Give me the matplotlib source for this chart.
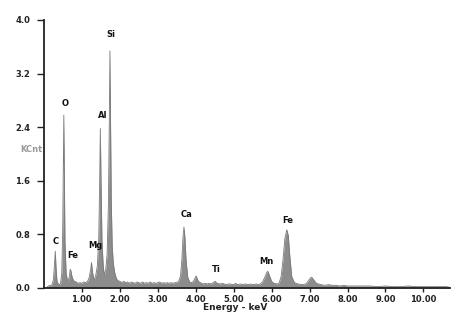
import matplotlib
matplotlib.use("Agg")
import matplotlib.pyplot as plt

# spectrum (keV, KCnt)
energia = [0.05, 0.10, 0.15, 0.18, 0.22, 0.25, 0.275, 0.30, 0.32, 0.345, 0.38, 0.42,
           0.44, 0.47, 0.495, 0.512, 0.525, 0.538, 0.555, 0.585, 0.62,
           0.64, 0.67, 0.695, 0.715, 0.74, 0.78, 0.85, 0.90,
           0.95, 1.00, 1.05, 1.10,
           1.15, 1.19, 1.23, 1.254, 1.28, 1.31, 1.34,
           1.37, 1.41, 1.445, 1.47, 1.487, 1.505, 1.53, 1.56, 1.58,
           1.60, 1.63, 1.665, 1.70, 1.722, 1.74, 1.757, 1.775, 1.80, 1.83, 1.87, 1.91, 1.95,
           2.00, 2.05, 2.10, 2.15, 2.20, 2.25, 2.30, 2.35, 2.40, 2.45, 2.50, 2.55, 2.60,
           2.65, 2.70, 2.75, 2.80, 2.85, 2.90, 2.95, 3.00, 3.05, 3.10, 3.15, 3.20, 3.25,
           3.30, 3.35, 3.40, 3.45, 3.50,
           3.55, 3.60, 3.635, 3.665, 3.69, 3.715, 3.745, 3.79, 3.84, 3.90, 3.95, 4.01, 4.07,
           4.12, 4.20, 4.25, 4.30, 4.35, 4.40, 4.46, 4.51, 4.56, 4.65, 4.70, 4.80, 4.85,
           4.90, 5.00, 5.05, 5.10, 5.20, 5.25, 5.30, 5.40, 5.45, 5.50, 5.60, 5.65, 5.70,
           5.76, 5.82, 5.87, 5.90, 5.94, 6.00, 6.06, 6.15, 6.20,
           6.25, 6.30, 6.35, 6.40, 6.44, 6.48, 6.53, 6.60, 6.70, 6.80, 6.90,
           6.96, 7.02, 7.06, 7.11, 7.18, 7.30, 7.40, 7.50, 7.60, 7.70, 7.80, 7.90, 8.00,
           8.20, 8.40, 8.60, 8.80, 9.00, 9.20, 9.40, 9.60, 9.80, 10.00, 10.20, 10.40,
           10.60, 10.70]
contagens = [0.00, 0.02, 0.04, 0.03, 0.06, 0.12, 0.32, 0.55, 0.30, 0.10, 0.06, 0.05,
             0.07, 0.22, 0.85, 1.75, 2.58, 1.75, 0.70, 0.22, 0.11,
             0.11, 0.17, 0.28, 0.25, 0.17, 0.11, 0.09, 0.07,
             0.08, 0.07, 0.09, 0.08,
             0.10, 0.15, 0.27, 0.38, 0.24, 0.15, 0.14,
             0.20, 0.34, 0.75, 1.60, 2.38, 1.60, 0.70, 0.36, 0.24,
             0.20, 0.28, 0.50, 1.25, 2.42, 3.54, 2.42, 1.30, 0.62, 0.36, 0.22, 0.14, 0.11,
             0.10, 0.08, 0.10, 0.08, 0.09, 0.07, 0.09, 0.08, 0.07, 0.09, 0.08, 0.07, 0.09,
             0.07, 0.08, 0.07, 0.09, 0.07, 0.08, 0.07, 0.08, 0.09, 0.07, 0.08, 0.07, 0.08,
             0.07, 0.08, 0.07, 0.08, 0.08,
             0.10, 0.18, 0.42, 0.76, 0.91, 0.76, 0.42, 0.16, 0.09, 0.08, 0.11, 0.18, 0.10,
             0.08, 0.06, 0.07, 0.06, 0.07, 0.06, 0.08, 0.10, 0.07, 0.06, 0.07, 0.05, 0.06,
             0.06, 0.05, 0.07, 0.05, 0.06, 0.05, 0.06, 0.05, 0.06, 0.05, 0.06, 0.05, 0.06,
             0.09, 0.16, 0.23, 0.25, 0.19, 0.10, 0.07, 0.06, 0.08,
             0.17, 0.42, 0.74, 0.87, 0.78, 0.47, 0.17, 0.08, 0.06, 0.05, 0.06,
             0.10, 0.15, 0.16, 0.12, 0.07, 0.05, 0.04, 0.05, 0.04, 0.04, 0.03, 0.04, 0.03,
             0.03, 0.03, 0.03, 0.02, 0.03, 0.02, 0.02, 0.03, 0.02, 0.02, 0.02, 0.02,
             0.02, 0.01]

# peak labels
elementos = ["C", "Fe", "O", "Mg", "Al", "Si", "Ca", "Ti", "Mn", "Fe"]
elem_x = [0.32, 0.77, 0.56, 1.35, 1.56, 1.77, 3.77, 4.53, 5.87, 6.43]
elem_y = [0.69, 0.48, 2.76, 0.63, 2.57, 3.79, 1.09, 0.27, 0.39, 1.01]

ticks_x = [1, 2, 3, 4, 5, 6, 7, 8, 9, 10]
ticks_y = [0.0, 0.8, 1.6, 2.4, 3.2, 4.0]

fig = plt.figure(figsize=(4.62, 3.17), dpi=100)
ax = fig.add_axes([0.095, 0.0915, 0.879, 0.8455])

ax.fill_between(energia, contagens, 0, color="#8c8c8c", linewidth=0)
ax.plot(energia, contagens, color="#7a7a7a", linewidth=0.6)

for nome, xe, ye in zip(elementos, elem_x, elem_y):
    ax.text(xe, ye, nome, ha="center", va="center", fontsize=6, fontweight="bold", color="#111111")

ax.set_xlim(0, 10.7)
ax.set_ylim(0, 4.0)
ax.set_xticks(ticks_x)
ax.set_xticklabels([f"{t:.2f}" for t in ticks_x])
ax.set_yticks(ticks_y)
ax.set_yticklabels([f"{t:.1f}" for t in ticks_y])

for lado in ["top", "right"]:
    ax.spines[lado].set_visible(False)
for lado in ["left", "bottom"]:
    ax.spines[lado].set_linewidth(1.3)
    ax.spines[lado].set_color("#222222")

ax.tick_params(axis="y", direction="out", length=5, width=1, pad=5, labelsize=6, colors="#222222")
ax.tick_params(axis="x", direction="out", length=3, width=1, pad=2, labelsize=6, colors="#222222")
for lab in ax.get_xticklabels() + ax.get_yticklabels():
    lab.set_fontweight("bold")

fig.text(235 / 462, 1 - 308 / 317, "Energy - keV", ha="center", va="center",
         fontsize=6.5, fontweight="bold", color="#222222")
fig.text(31 / 462, 1 - 149 / 317, "KCnt", ha="center", va="center",
         fontsize=6, fontweight="bold", color="#9a9a9a")

fig.savefig("out.png", dpi=100)
